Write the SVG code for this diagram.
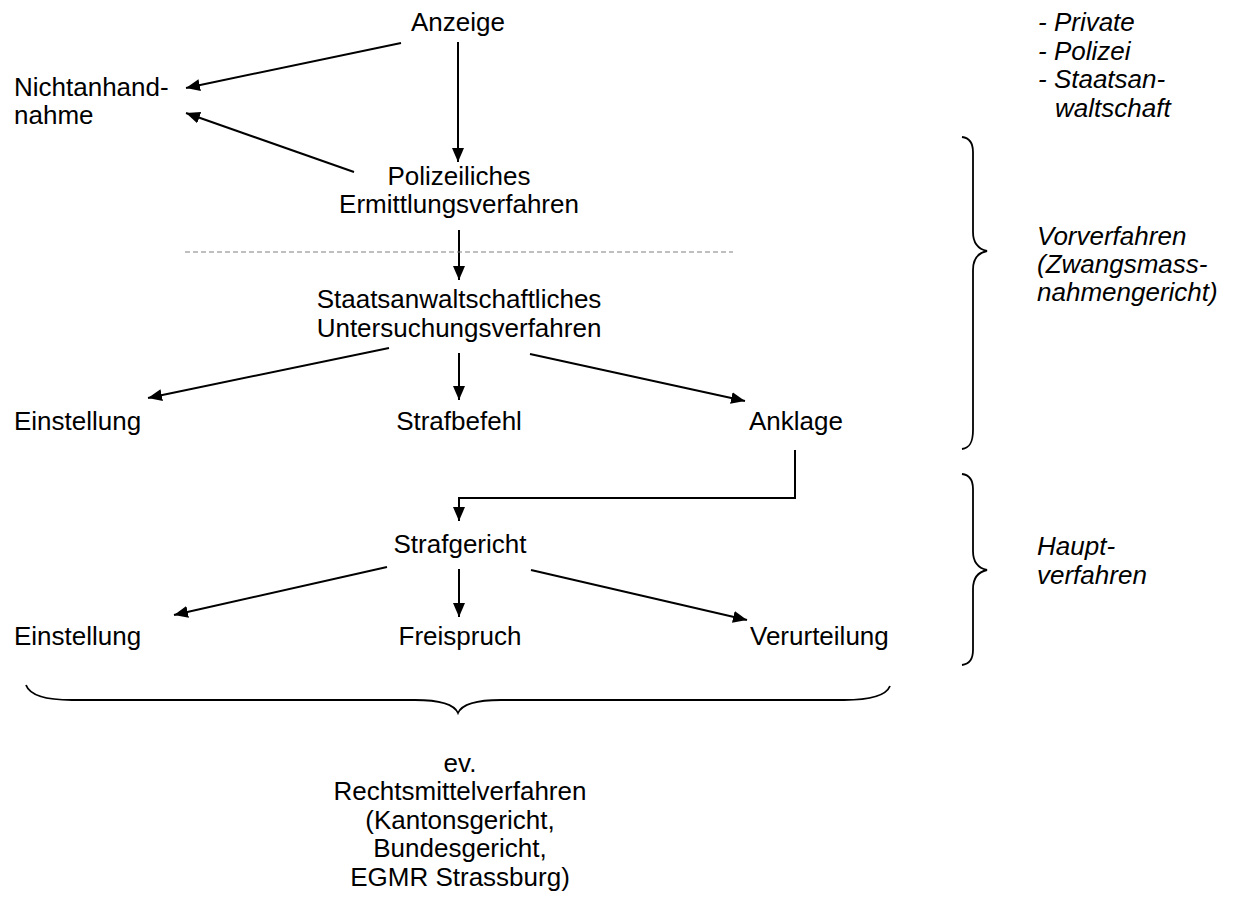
<svg xmlns="http://www.w3.org/2000/svg" width="1234" height="900" viewBox="0 0 1234 900">
<style>
text{font-family:"Liberation Sans",Arial,sans-serif;font-size:26px;fill:#000}
.c{text-anchor:middle}
.i{font-style:italic}
.ln{stroke:#000;stroke-width:2;fill:none}
.br{stroke:#000;stroke-width:1.8;fill:none}
.dash{stroke:#808080;stroke-width:1.2;stroke-dasharray:5 3;fill:none}
</style>
<defs>
<marker id="ah" markerUnits="userSpaceOnUse" markerWidth="16" markerHeight="14" refX="14" refY="6" orient="auto">
<path d="M0,0 L14,6 L0,12 z" fill="#000"/>
</marker>
</defs>
<rect width="1234" height="900" fill="#fff"/>

<g id="connectors">
<line class="ln" x1="401" y1="43" x2="186" y2="88" marker-end="url(#ah)"/>
<line class="ln" x1="458" y1="42" x2="458" y2="162" marker-end="url(#ah)"/>
<line class="ln" x1="354" y1="172" x2="186" y2="113" marker-end="url(#ah)"/>
<line class="ln" x1="459" y1="230" x2="459" y2="280" marker-end="url(#ah)"/>
<line class="ln" x1="389" y1="348" x2="148" y2="398" marker-end="url(#ah)"/>
<line class="ln" x1="459" y1="353" x2="459" y2="400" marker-end="url(#ah)"/>
<line class="ln" x1="530" y1="354" x2="745" y2="401" marker-end="url(#ah)"/>
<path class="ln" d="M795 450 L795 498 L459 498 L459 521" marker-end="url(#ah)"/>
<line class="ln" x1="387" y1="567" x2="174" y2="615" marker-end="url(#ah)"/>
<line class="ln" x1="459" y1="569" x2="459" y2="617" marker-end="url(#ah)"/>
<line class="ln" x1="531" y1="570" x2="747" y2="620" marker-end="url(#ah)"/>
</g>

<g id="separator">
<line class="dash" x1="185" y1="252" x2="733" y2="252"/>
</g>

<g id="anzeige"><text class="c" x="458" y="31">Anzeige</text></g>
<g id="nichtanhandnahme"><text x="14" y="96">Nichtanhand-</text><text x="14" y="124">nahme</text></g>
<g id="polizeilich"><text class="c" x="459" y="185">Polizeiliches</text><text class="c" x="459" y="213">Ermittlungsverfahren</text></g>
<g id="staatsanwalt"><text class="c" x="459" y="308">Staatsanwaltschaftliches</text><text class="c" x="459" y="337">Untersuchungsverfahren</text></g>
<g id="einstellung1"><text x="14" y="430">Einstellung</text></g>
<g id="strafbefehl"><text class="c" x="459" y="430">Strafbefehl</text></g>
<g id="anklage"><text x="749" y="430">Anklage</text></g>
<g id="strafgericht"><text class="c" x="460" y="553">Strafgericht</text></g>
<g id="einstellung2"><text x="14" y="645">Einstellung</text></g>
<g id="freispruch"><text class="c" x="460" y="645">Freispruch</text></g>
<g id="verurteilung"><text x="750" y="645">Verurteilung</text></g>

<g id="anzeiger">
<text class="i" x="1038" y="31">- Private</text>
<text class="i" x="1038" y="60">- Polizei</text>
<text class="i" x="1038" y="88">- Staatsan-</text>
<text class="i" x="1055" y="117">waltschaft</text>
</g>

<g id="vorverfahren">
<path class="br" d="M962 137 C970 138 973 143 973 152 L973 232 C973 243 978 249 987 251 C978 253 973 259 973 270 L973 430 C973 442 970 448 962 449"/>
<text class="i" x="1037" y="245">Vorverfahren</text>
<text class="i" x="1037" y="273">(Zwangsmass-</text>
<text class="i" x="1037" y="301">nahmengericht)</text>
</g>

<g id="hauptverfahren">
<path class="br" d="M962 474 C970 475 973 480 973 489 L973 551 C973 562 978 568 987 570 C978 572 973 578 973 589 L973 650 C973 659 970 664 962 665"/>
<text class="i" x="1037" y="555">Haupt-</text>
<text class="i" x="1037" y="584">verfahren</text>
</g>

<g id="rechtsmittel">
<path class="br" d="M26 685 C30 696 48 700 72 700 L415 700 C440 700 454 704 458 713 C462 704 476 700 501 700 L844 700 C868 700 886 696 890 686"/>
<text class="c" x="460" y="772">ev.</text>
<text class="c" x="460" y="800">Rechtsmittelverfahren</text>
<text class="c" x="460" y="829">(Kantonsgericht,</text>
<text class="c" x="460" y="857">Bundesgericht,</text>
<text class="c" x="460" y="886">EGMR Strassburg)</text>
</g>
</svg>
